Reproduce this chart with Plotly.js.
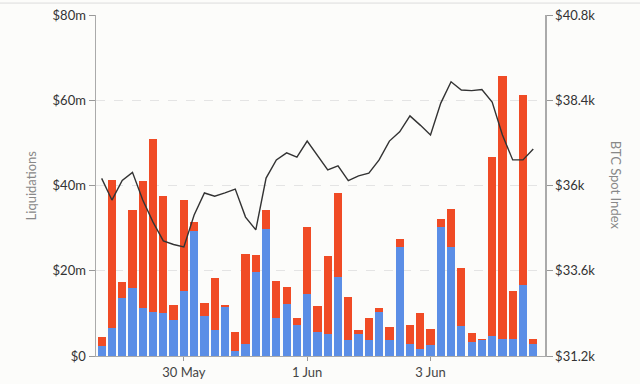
<!DOCTYPE html>
<html>
<head>
<meta charset="utf-8">
<script src="https://cdn.plot.ly/plotly-3.0.1.min.js"></script>
<style>
html,body{margin:0;padding:0;background:#fcfcfa;}
#chart{width:640px;height:384px;}
</style>
</head>
<body>
<div id="chart"></div>
<script>
// 4-hour periods, 28 May 16:00 to 4 Jun 16:00 (2021)
const times = [
"2021-05-28 16:00","2021-05-28 20:00",
"2021-05-29 00:00","2021-05-29 04:00","2021-05-29 08:00","2021-05-29 12:00","2021-05-29 16:00","2021-05-29 20:00",
"2021-05-30 00:00","2021-05-30 04:00","2021-05-30 08:00","2021-05-30 12:00","2021-05-30 16:00","2021-05-30 20:00",
"2021-05-31 00:00","2021-05-31 04:00","2021-05-31 08:00","2021-05-31 12:00","2021-05-31 16:00","2021-05-31 20:00",
"2021-06-01 00:00","2021-06-01 04:00","2021-06-01 08:00","2021-06-01 12:00","2021-06-01 16:00","2021-06-01 20:00",
"2021-06-02 00:00","2021-06-02 04:00","2021-06-02 08:00","2021-06-02 12:00","2021-06-02 16:00","2021-06-02 20:00",
"2021-06-03 00:00","2021-06-03 04:00","2021-06-03 08:00","2021-06-03 12:00","2021-06-03 16:00","2021-06-03 20:00",
"2021-06-04 00:00","2021-06-04 04:00","2021-06-04 08:00","2021-06-04 12:00","2021-06-04 16:00"
];
// liquidations, $m
const blueLiq = [2.3,6.5,13.7,15.9,11.2,10.4,10.2,8.4,15.2,29.3,9.4,6.1,11.4,1.2,2.7,19.8,29.7,8.8,12.2,7.3,14.5,5.7,5.1,18.5,3.8,5.1,3.8,10.4,3.8,25.5,2.7,1.6,2.6,30.3,25.6,7.0,3.2,3.8,4.7,3.9,4.1,16.7,2.7];
const redLiq = [2.2,34.8,3.7,18.3,29.9,40.4,27.4,3.6,21.4,2.2,3.0,12.1,0.6,4.5,21.2,3.8,4.5,8.8,4.1,1.5,15.7,6.0,18.4,19.7,10.1,1.0,5.2,0.8,2.9,1.9,4.6,8.6,3.7,1.8,8.9,13.6,2.1,0.1,42.1,61.9,11.2,44.5,1.4];
// BTC spot index, $k
const btcPrice = [36.20,35.59,36.14,36.37,35.59,34.97,34.44,34.34,34.27,35.17,35.79,35.70,35.79,35.90,35.11,34.75,36.21,36.72,36.92,36.80,37.25,36.83,36.44,36.55,36.14,36.27,36.35,36.72,37.25,37.51,37.96,37.70,37.42,38.32,38.92,38.69,38.67,38.70,38.35,37.42,36.72,36.72,37.03];

const leftTickVals = [0,20,40,60,80];
const leftTickText = ["$0","$20m","$40m","$60m","$80m"];
const rightTickVals = [31.2,33.6,36,38.4,40.8];
const rightTickText = ["$31.2k","$33.6k","$36k","$38.4k","$40.8k"];
const xTickVals = ["2021-05-30","2021-06-01","2021-06-03"];
const xTickText = ["30 May","1 Jun","3 Jun"];

const font = "Lato, 'Open Sans', sans-serif";

const traces = [
  {type:"bar", x:times, y:blueLiq, name:"Longs", marker:{color:"#5b8ee6"}, hoverinfo:"skip"},
  {type:"bar", x:times, y:redLiq, name:"Shorts", marker:{color:"#f04b25"}, hoverinfo:"skip"},
  {type:"scatter", mode:"lines", x:times, y:btcPrice, yaxis:"y2", name:"BTC",
   line:{color:"#333333", width:1.4}, hoverinfo:"skip"}
];

const layout = {
  width:640, height:384,
  margin:{l:96, r:95, t:15, b:28},
  paper_bgcolor:"#fcfcfa", plot_bgcolor:"#fcfcfa",
  barmode:"stack", bargap:0.2,
  showlegend:false,
  font:{family:font, color:"#333", size:13},
  xaxis:{
    type:"date",
    range:["2021-05-28 13:48","2021-06-04 20:34"],
    tickmode:"array", tickvals:xTickVals, ticktext:xTickText,
    ticks:"outside", ticklen:4, tickcolor:"#999",
    showline:true, linecolor:"#aaa", linewidth:1,
    showgrid:false, zeroline:false,
    tickfont:{size:13, color:"#444"}
  },
  yaxis:{
    range:[0,80], tickmode:"array", tickvals:leftTickVals, ticktext:leftTickText,
    ticks:"outside", ticklen:6, tickcolor:"#999",
    showline:true, linecolor:"#aaa", linewidth:1.5,
    showgrid:true, gridcolor:"#e4e4e4", griddash:"dash", gridwidth:1,
    zeroline:false, tickfont:{size:13, color:"#333"}
  },
  yaxis2:{
    overlaying:"y", side:"right",
    range:[31.2,40.8], tickmode:"array", tickvals:rightTickVals, ticktext:rightTickText,
    ticks:"outside", ticklen:6, tickcolor:"#999",
    showline:true, linecolor:"#aaa", linewidth:1.5,
    showgrid:false, zeroline:false, tickfont:{size:13, color:"#333"}
  },
  annotations:[
    {text:"Liquidations", xref:"paper", yref:"paper", x:-0.145, y:0.5, xanchor:"center", yanchor:"middle",
     textangle:-90, showarrow:false, font:{size:13, color:"#888", family:font}},
    {text:"BTC Spot Index", xref:"paper", yref:"paper", x:1.16, y:0.5, xanchor:"center", yanchor:"middle",
     textangle:90, showarrow:false, font:{size:13, color:"#888", family:font}}
  ],
  shapes:[
    {type:"line", xref:"paper", yref:"paper", x0:-0.3, x1:1.3, y0:1.035, y1:1.035, line:{color:"#dcdcdc", width:1}}
  ]
};

Plotly.newPlot("chart", traces, layout, {displayModeBar:false, staticPlot:true});
</script>
</body>
</html>
